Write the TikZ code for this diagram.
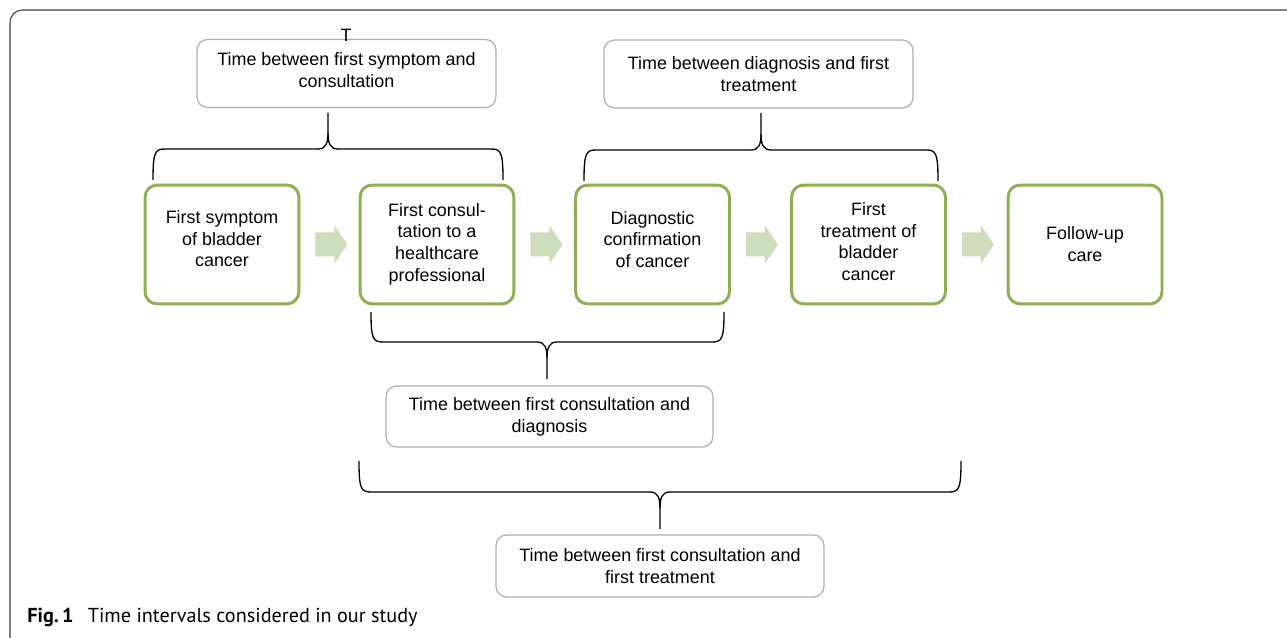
\documentclass[tikz,border=0pt]{standalone}
\usepackage{fontspec}
\setmainfont{Liberation Sans}
\newfontfamily\capfont{PT Sans}
\usetikzlibrary{calc}
\definecolor{boxgreen}{RGB}{143,174,86}
\definecolor{arrowgreen}{RGB}{206,221,188}
\definecolor{boxgray}{RGB}{175,175,175}
\definecolor{framegray}{RGB}{60,60,60}
\tikzset{
  stagebox/.style={draw=boxgreen, line width=1.7pt, rounded corners=7pt, fill=white,
    minimum width=3.08cm, minimum height=2.38cm, align=center, inner sep=0pt,
    font=\fontsize{10.2}{12.5}\selectfont},
  intervalbox/.style={draw=boxgray, line width=0.7pt, rounded corners=6pt, fill=white,
    minimum height=1.36cm, align=center, inner sep=0pt,
    font=\fontsize{10.2}{12.5}\selectfont},
  bracestroke/.style={draw=black, line width=0.75pt},
  framestroke/.style={draw=framegray, line width=0.6pt, rounded corners=7pt},
  blockarrow/.style={fill=arrowgreen, draw=none}
}
% raise the text of a node: extra depth on last line
\newcommand\lift[1]{\rule[-#1]{0pt}{0pt}}
\newcommand\myblockarrow[2]{%
  \fill[blockarrow] ($(#1.east)+(15,-12)$) -- ++(19,0) -- ++(0,-7) -- ++(13,19)
     -- ++(-13,19) -- ++(0,-7) -- ++(-19,0) -- cycle;}
% xl xr yend yh xt ytip s
\newcommand\mybrace[7]{%
  \draw[bracestroke] (#1,#3) .. controls (#1,{#4+#7*3}) and ({#1+2},#4) .. ({#1+12},#4)
    -- ({#5-10},#4) .. controls ({#5-2},#4) and (#5,{#4-#7*6}) .. (#5,{#4-#7*16}) -- (#5,#6);
  \draw[bracestroke] (#2,#3) .. controls (#2,{#4+#7*3}) and ({#2-2},#4) .. ({#2-12},#4)
    -- ({#5+10},#4) .. controls ({#5+2},#4) and (#5,{#4-#7*6}) .. (#5,{#4-#7*16});}
\begin{document}
\begin{tikzpicture}[x=0.02cm,y=-0.02cm]
\useasboundingbox (0,0) rectangle (1287,638);
\fill[white] (0,0) rectangle (1287,638);
\draw[framestroke] (1320,10) -- (10,10) -- (10,660) -- (60,660);

% interval boxes
\node[intervalbox, minimum width=5.98cm] (i1) at (346.5,73.5) {Time between first symptom and\\consultation\lift{4.5pt}};
\node[intervalbox, minimum width=6.18cm] (i2) at (758.5,74) {Time between diagnosis and first\\treatment};
\node[intervalbox, minimum width=6.54cm, minimum height=1.22cm] (i3) at (549.5,416.5) {Time between first consultation and\\diagnosis};
\node[intervalbox, minimum width=6.56cm, minimum height=1.24cm] (i4) at (660,566) {Time between first consultation and\\first treatment};
\node[anchor=base, font=\fontsize{10.2}{12.5}\selectfont, inner sep=0pt] (stray) at (346,42) {T};

% stage boxes
\node[stagebox] (s1) at (222,244.5) {First symptom\\of bladder\\cancer\lift{6.8pt}};
\node[stagebox] (s2) at (437,244.5) {First consul-\\tation to a\\healthcare\\professional\lift{2.3pt}};
\node[stagebox] (s3) at (652.5,244.5) {Diagnostic\\confirmation\\of cancer\lift{5.7pt}};
\node[stagebox] (s4) at (868.5,244.5) {First\\treatment of\\bladder\\cancer\lift{3.4pt}};
\node[stagebox] (s5) at (1085,244.5) {Follow-up\\care};

\myblockarrow{s1}{s2}
\myblockarrow{s2}{s3}
\myblockarrow{s3}{s4}
\myblockarrow{s4}{s5}

% braces
\mybrace{153}{503}{180}{149}{328}{113}{1}
\mybrace{584}{938}{181}{150}{761}{113}{1}
\mybrace{371}{724}{312}{342}{547}{379}{-1}
\mybrace{359}{961}{461}{492}{660}{529}{-1}

% caption
\node[anchor=base west, inner sep=0pt, font=\capfont\fontsize{11.5}{14}\selectfont] (cap) at (27,622)
  {\textbf{Fig.\,1}\hspace{0.7em}Time intervals considered in our study};
\end{tikzpicture}
\end{document}
